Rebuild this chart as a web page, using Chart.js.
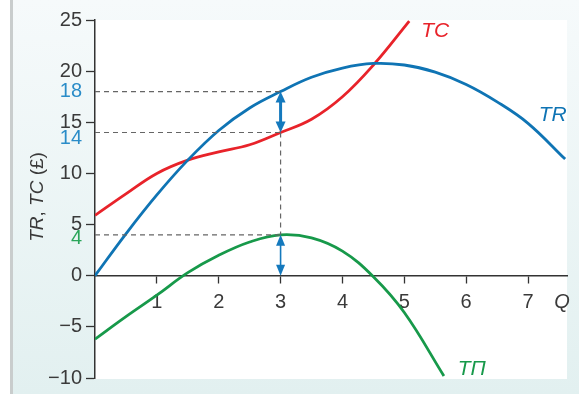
<!DOCTYPE html>
<html>
<head>
<meta charset="utf-8">
<script src="https://cdn.jsdelivr.net/npm/chart.js@4.4.1/dist/chart.umd.min.js"></script>
<style>
  html, body { margin: 0; padding: 0; background: #fff; }
  #wrap { width: 579px; height: 394px; position: relative; }
</style>
</head>
<body>
<div id="wrap"><canvas id="grafico"></canvas></div>
<script>
// dados
const qTR = [0, 0.5, 1, 1.5, 2, 2.5, 3, 3.5, 4, 4.5, 5, 5.5, 6, 6.5, 7, 7.6];
const trValues = [0, 4.1, 7.9, 11.3, 14.2, 16.4, 18, 19.4, 20.3, 20.75, 20.6, 19.9, 18.7, 17.0, 14.9, 11.4];

const qTC = [0, 0.5, 1, 1.5, 2, 2.5, 3, 3.5, 4, 4.5, 5.08];
const tcValues = [5.9, 8.0, 10.0, 11.3, 12.1, 12.8, 14.0, 15.3, 17.5, 20.6, 24.9];

const qTP = [0, 0.5, 1, 1.5, 2, 2.5, 3, 3.5, 4, 4.5, 5, 5.64];
const tpValues = [-6.2, -4.0, -1.9, 0.3, 2.0, 3.3, 4.0, 3.7, 2.4, -0.1, -3.6, -9.8];

// linhas de referência e setas
const qStar = 3;
const guideLevels = [18, 14, 4];
const arrowPairs = [[14, 18], [0, 4]];

// eixos
const yTicks = [25, 20, 15, 10, 5, 0, -5, -10];
const yMarks = [
  { v: 18, color: '#2a8cc8', dy: 0 },
  { v: 14, color: '#2a8cc8', dy: 6 },
  { v: 4, color: '#2aa55a', dy: 4 }
];
const xTicks = [1, 2, 3, 4, 5, 6, 7];
const qLabelAt = 7.55;
const xMax = 7.63;

// rótulos das curvas (posição em unidades do gráfico)
const curveLabels = [
  { text: 'TC', q: 5.5, v: 23.95, color: '#e8232a' },
  { text: 'TR', q: 7.4, v: 15.7, color: '#0f74b4' },
  { text: 'T\u03A0', q: 6.09, v: -9.1, color: '#17994a' }
];

const FONTE = '"Liberation Sans", Arial, sans-serif';
const toPoints = (xs, ys) => xs.map((x, i) => ({ x: x, y: ys[i] }));
const minus = v => v < 0 ? '\u2212' + Math.abs(v) : String(v);

const guideSets = guideLevels.map(v => ({
  data: [{ x: 0, y: v }, { x: qStar, y: v }],
  borderColor: '#666', borderWidth: 1.2, borderDash: [5, 4],
  pointRadius: 0, tension: 0
}));
guideSets.push({
  data: [{ x: qStar, y: guideLevels[1] }, { x: qStar, y: guideLevels[2] }],
  borderColor: '#666', borderWidth: 1.2, borderDash: [5, 4],
  pointRadius: 0, tension: 0
});

const curva = (pts, cor) => ({
  data: pts, borderColor: cor, borderWidth: 2.8,
  pointRadius: 0, tension: 0.4, fill: false
});

// fundo do painel
const fundo = {
  id: 'fundo',
  beforeDraw(chart) {
    const { ctx, chartArea: a, width, height } = chart;
    ctx.save();
    ctx.fillStyle = '#fff';
    ctx.fillRect(0, 0, width, height);
    const g = ctx.createLinearGradient(0, 0, 0, height);
    g.addColorStop(0, '#f6fafb');
    g.addColorStop(1, '#e2f0f0');
    ctx.fillStyle = g;
    ctx.fillRect(13, 0, width - 13, height);
    ctx.fillStyle = '#c9cdcd';
    ctx.fillRect(10, 0, 3, height);
    ctx.fillStyle = '#fff';
    ctx.fillRect(a.left, a.top, a.right - a.left, a.bottom - a.top + 1);
    ctx.restore();
  }
};

function seta(ctx, x, yBase, yTopo, largura, cab, abertura) {
  ctx.beginPath();
  ctx.lineWidth = largura;
  ctx.moveTo(x, yBase - cab + 1);
  ctx.lineTo(x, yTopo + cab - 1);
  ctx.stroke();
  ctx.beginPath();
  ctx.moveTo(x, yTopo);
  ctx.lineTo(x - abertura / 2, yTopo + cab);
  ctx.lineTo(x + abertura / 2, yTopo + cab);
  ctx.closePath();
  ctx.fill();
  ctx.beginPath();
  ctx.moveTo(x, yBase);
  ctx.lineTo(x - abertura / 2, yBase - cab);
  ctx.lineTo(x + abertura / 2, yBase - cab);
  ctx.closePath();
  ctx.fill();
}

// setas, rótulos e título do eixo y
const extras = {
  id: 'extras',
  afterDatasetsDraw(chart) {
    const { ctx, scales: { x, y } } = chart;
    ctx.save();
    ctx.strokeStyle = '#1479bd';
    ctx.fillStyle = '#1479bd';
    const px = x.getPixelForValue(qStar);
    arrowPairs.forEach((p, i) => {
      seta(ctx, px, y.getPixelForValue(p[0]), y.getPixelForValue(p[1]),
        i === 0 ? 3 : 1.6, 11, i === 0 ? 10 : 9);
    });

    // valores destacados no eixo y
    ctx.font = '20px ' + FONTE;
    ctx.textAlign = 'right';
    ctx.textBaseline = 'middle';
    yMarks.forEach(m => {
      ctx.fillStyle = m.color;
      ctx.fillText(String(m.v), y.right - 13, y.getPixelForValue(m.v) + m.dy);
    });

    ctx.font = 'italic 21px ' + FONTE;
    ctx.textAlign = 'center';
    curveLabels.forEach(l => {
      ctx.fillStyle = l.color;
      ctx.fillText(l.text, x.getPixelForValue(l.q), y.getPixelForValue(l.v));
    });

    // TR, TC (£)
    const partes = [['TR', true], [', ', false], ['TC', true], [' (\u00A3)', false]];
    const fonte = it => (it ? 'italic ' : '') + '19px ' + FONTE;
    let total = 0;
    partes.forEach(p => { ctx.font = fonte(p[1]); total += ctx.measureText(p[0]).width; });
    ctx.translate(38, 197);
    ctx.rotate(-Math.PI / 2);
    ctx.textAlign = 'left';
    ctx.fillStyle = '#3a3a3a';
    let cx = -total / 2;
    partes.forEach(p => {
      ctx.font = fonte(p[1]);
      ctx.fillText(p[0], cx, 0);
      cx += ctx.measureText(p[0]).width;
    });
    ctx.restore();
  }
};

new Chart(document.getElementById('grafico'), {
  type: 'line',
  data: {
    datasets: [
      ...guideSets,
      curva(toPoints(qTR, trValues), '#0f74b4'),
      curva(toPoints(qTC, tcValues), '#e8232a'),
      curva(toPoints(qTP, tpValues), '#17994a')
    ]
  },
  options: {
    responsive: true,
    maintainAspectRatio: false,
    animation: false,
    layout: { padding: { left: 0, right: 12, top: 20, bottom: 8 } },
    plugins: { legend: { display: false }, tooltip: { enabled: false } },
    scales: {
      x: {
        type: 'linear',
        position: { y: 0 },
        min: 0,
        max: xMax,
        afterBuildTicks: s => { s.ticks = xTicks.concat([qLabelAt]).map(v => ({ value: v })); },
        border: { color: '#333', width: 1.5 },
        grid: {
          drawOnChartArea: false,
          tickLength: 7,
          tickWidth: 1.3,
          tickColor: c => c.tick && c.tick.value === qLabelAt ? 'rgba(0,0,0,0)' : '#333'
        },
        ticks: {
          autoSkip: false,
          maxRotation: 0,
          padding: 8,
          color: '#3a3a3a',
          font: c => ({
            family: FONTE,
            size: 20,
            style: c.tick && c.tick.value === qLabelAt ? 'italic' : 'normal'
          }),
          callback: v => v === qLabelAt ? 'Q' : String(v)
        }
      },
      y: {
        type: 'linear',
        min: -10,
        max: 25,
        afterFit: s => { s.width = 95; },
        afterBuildTicks: s => { s.ticks = yTicks.map(v => ({ value: v })); },
        border: { color: '#333', width: 1.5 },
        grid: {
          drawOnChartArea: false,
          tickLength: 9,
          tickWidth: 1.3,
          tickColor: '#333'
        },
        ticks: {
          autoSkip: false,
          padding: 4,
          font: { family: FONTE, size: 20 },
          color: '#3a3a3a',
          callback: v => minus(v)
        }
      }
    }
  },
  plugins: [fundo, extras]
});
</script>
</body>
</html>
